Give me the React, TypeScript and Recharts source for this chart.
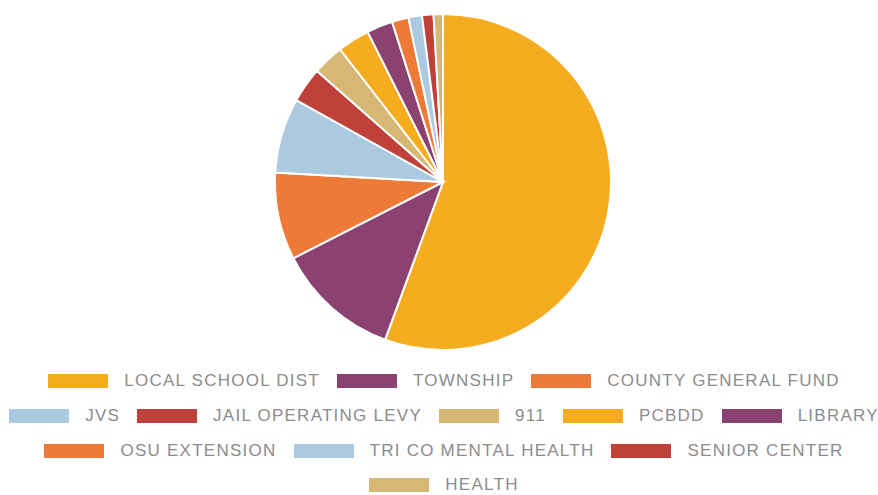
import { PieChart, Pie, Cell, Legend } from 'recharts'

const names = [
  'LOCAL SCHOOL DIST', 'TOWNSHIP', 'COUNTY GENERAL FUND', 'JVS', 'JAIL OPERATING LEVY', '911',
  'PCBDD', 'LIBRARY', 'OSU EXTENSION', 'TRI CO MENTAL HEALTH', 'SENIOR CENTER', 'HEALTH',
]
const shares = [55.6, 11.9, 8.4, 7.2, 3.4, 3.0, 3.1, 2.5, 1.6, 1.3, 1.1, 0.9]
const palette = ['#F5AC1E', '#8B4270', '#EE7A37', '#ABC9DF', '#C0403A', '#D6B774']

const data = names.map((name, i) => ({ name, value: shares[i] }))

function renderLegend() {
  return (
    <div style={{ display: 'flex', flexWrap: 'wrap', justifyContent: 'center', columnGap: 17, width: 872, marginLeft: 8 }}>
      {names.map((n, i) => (
        <div key={n} style={{ display: 'flex', alignItems: 'center', height: 34.7 }}>
          <div style={{ width: 60, height: 14, background: palette[i % palette.length], marginRight: 16 }} />
          <span style={{ fontFamily: "'Liberation Sans', Arial, sans-serif", fontSize: 17, letterSpacing: 1.25, color: '#8c8c8c' }}>{n}</span>
        </div>
      ))}
    </div>
  )
}

export default function App() {
  return (
    <div style={{ position: 'absolute', left: 0, top: 0, width: 878, height: 495, background: '#fff' }}>
      <PieChart width={878} height={495} margin={{ top: 0, right: 0, bottom: 0, left: 0 }}>
        <Pie
          data={data}
          dataKey="value"
          cx={443}
          cy={182}
          outerRadius={168}
          startAngle={90}
          endAngle={-270}
          stroke="#fff"
          strokeWidth={2}
          isAnimationActive={false}
        >
          {data.map((d, i) => <Cell key={d.name} fill={palette[i % palette.length]} />)}
        </Pie>
        <Legend content={renderLegend} wrapperStyle={{ position: 'absolute', left: 0, top: 364, width: 878 }} />
      </PieChart>
    </div>
  )
}
